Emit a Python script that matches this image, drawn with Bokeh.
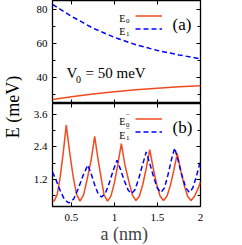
import math
from bokeh.plotting import figure
from bokeh.layouts import row, column
from bokeh.models import (Range1d, LinearAxis, FixedTicker, Label, Legend, LegendItem)
from bokeh.embed import file_html
from bokeh.resources import INLINE

# ---------------- data ----------------
a_top = [0.28, 0.5, 0.75, 1.0, 1.25, 1.5, 1.75, 2.0]
E0_top = [27.3, 28.9, 30.5, 31.8, 33.0, 33.9, 34.7, 35.3]
E1_top = [82.7, 75.8, 68.9, 63.5, 59.2, 55.9, 53.3, 51.0]

a_E0m = [0.28, 0.30, 0.335, 0.37, 0.405, 0.44, 0.48, 0.52, 0.56, 0.60,
         0.64, 0.68, 0.73, 0.77, 0.81, 0.85, 0.88, 0.92,
         0.96, 1.00, 1.04, 1.08, 1.12, 1.17, 1.21, 1.25,
         1.29, 1.33, 1.37, 1.41, 1.45, 1.49, 1.53, 1.57,
         1.61, 1.65, 1.69, 1.73, 1.77, 1.81, 1.85, 1.89,
         1.93, 1.97, 2.0]
E0m = [0.43, 0.40, 0.65, 1.30, 2.19, 3.20, 2.19, 1.30, 0.65, 0.40,
       0.62, 1.16, 1.93, 2.79, 1.93, 1.16, 0.62, 0.40,
       0.59, 1.08, 1.76, 2.52, 1.76, 1.09, 0.61, 0.42,
       0.59, 1.02, 1.62, 2.30, 1.62, 1.02, 0.59, 0.42,
       0.58, 0.98, 1.53, 2.16, 1.53, 0.98, 0.58, 0.42,
       0.58, 0.85, 1.10]

a_E1m = [0.28, 0.32, 0.37, 0.42, 0.47, 0.525, 0.58, 0.635, 0.69,
         0.73, 0.77, 0.81, 0.85, 0.895, 0.94, 0.985, 1.03,
         1.07, 1.115, 1.16, 1.20, 1.24, 1.285, 1.33, 1.37,
         1.41, 1.455, 1.50, 1.54, 1.58, 1.62, 1.66, 1.70,
         1.74, 1.785, 1.83, 1.87, 1.91, 1.955, 2.0]
E1m = [1.47, 1.19, 0.78, 0.45, 0.33, 0.47, 0.86, 1.34, 1.73,
       1.40, 1.00, 0.67, 0.55, 0.69, 1.07, 1.53, 1.91,
       1.57, 1.15, 0.80, 0.68, 0.83, 1.26, 1.78, 2.21,
       1.79, 1.29, 0.87, 0.72, 0.88, 1.34, 1.90, 2.36,
       1.90, 1.34, 0.88, 0.72, 0.88, 1.34, 1.90]

x_ticks = [0.5, 1.0, 1.5, 2.0]
x_tick_labels = ["0.5", "1", "1.5", "2"]
top_ticks = [40, 60, 80]
top_minor = [30, 50, 70]
bot_ticks = [1.2, 2.4, 3.6]
bot_minor = [0.6, 1.8, 3.0]

RED = "#f04b1e"
BLUE = "#0000ff"
FONT = "Liberation Serif"

FW, FH = 148, 103
BL, BR = 30, 34


def style_axis(ax, ticker, labels=True, minor_in=0):
    ax.ticker = ticker
    ax.axis_line_color = None
    ax.major_tick_in = 4
    ax.major_tick_out = 0
    ax.minor_tick_in = minor_in
    ax.minor_tick_out = 0
    ax.major_tick_line_color = "black"
    ax.minor_tick_line_color = "black"
    ax.major_tick_line_width = 1
    ax.minor_tick_line_width = 1
    if labels:
        ax.major_label_text_font = FONT
        ax.major_label_text_font_size = "11px"
        ax.major_label_text_color = "black"
        ax.major_label_standoff = 5
    else:
        ax.major_label_text_font_size = "0px"
        ax.major_label_standoff = 0
        ax.major_label_text_alpha = 0


def make_fig(yr, bottom_border):
    p = figure(x_range=Range1d(0.28, 2.0), y_range=yr,
               frame_width=FW, frame_height=FH,
               min_border_left=BL, min_border_right=BR,
               min_border_top=0, min_border_bottom=bottom_border,
               x_axis_type=None, y_axis_type=None,
               output_backend="svg", toolbar_location=None)
    p.outline_line_color = "black"
    p.outline_line_width = 1.3
    p.grid.visible = False
    p.background_fill_color = "white"
    p.border_fill_color = "white"
    return p


# ---------------- top panel ----------------
top = make_fig(Range1d(25, 85), 0)
tl = LinearAxis(); style_axis(tl, FixedTicker(ticks=top_ticks, minor_ticks=top_minor), True, 3)
tr = LinearAxis(); style_axis(tr, FixedTicker(ticks=top_ticks, minor_ticks=top_minor), False, 3)
ta = LinearAxis(); style_axis(ta, FixedTicker(ticks=x_ticks), False)
tb = LinearAxis(); style_axis(tb, FixedTicker(ticks=x_ticks), False)
top.add_layout(tl, "left")
top.add_layout(tr, "right")
top.add_layout(ta, "above")
top.add_layout(tb, "below")

r0 = top.line(a_top, E0_top, line_color=RED, line_width=1.5)
r1 = top.line(a_top, E1_top, line_color=BLUE, line_width=1.5, line_dash="5 3")

leg_t = Legend(items=[LegendItem(label=" ", renderers=[r0]),
                      LegendItem(label=" ", renderers=[r1])],
               location=(83, 68), padding=0, margin=0, spacing=0,
               glyph_width=27, glyph_height=13, label_height=13, label_width=0,
               label_standoff=0, label_text_font_size="1px",
               border_line_color=None, background_fill_alpha=0)
top.add_layout(leg_t)


def txt(p, x, y, t, size, align="left", baseline="alphabetic"):
    p.add_layout(Label(x=x, y=y, text=t, text_font=FONT, text_font_size=size,
                       text_align=align, text_baseline=baseline, text_color="black"))


txt(top, 1.055, 74.3, "E", "10px")
txt(top, 1.134, 72.8, "0", "7px")
txt(top, 1.055, 66.9, "E", "10px")
txt(top, 1.134, 65.2, "1", "7px")
txt(top, 1.675, 71.0, "(a)", "17px", baseline="middle")
txt(top, 0.443, 42.5, "V", "15px")
txt(top, 0.553, 39.0, "0", "10px")
txt(top, 0.664, 42.5, "= 50 meV", "15px")

# ---------------- bottom panel ----------------
bot = make_fig(Range1d(0.2, 4.0), 0)
bl = LinearAxis(); style_axis(bl, FixedTicker(ticks=bot_ticks, minor_ticks=bot_minor), True, 3)
br = LinearAxis(); style_axis(br, FixedTicker(ticks=bot_ticks, minor_ticks=bot_minor), False, 3)
ba = LinearAxis(); style_axis(ba, FixedTicker(ticks=x_ticks), False)
bb = LinearAxis(); style_axis(bb, FixedTicker(ticks=x_ticks), True)
bb.major_label_overrides = dict(zip(x_ticks, x_tick_labels))
bb.major_label_standoff = 7
bb.axis_label = "a  (nm)"
bb.axis_label_text_font = FONT
bb.axis_label_text_font_size = "18px"
bb.axis_label_text_font_style = "normal"
bb.axis_label_standoff = 0
bot.add_layout(bl, "left")
bot.add_layout(br, "right")
bot.add_layout(ba, "above")
bot.add_layout(bb, "below")

s0 = bot.line(a_E0m, E0m, line_color=RED, line_width=1.5)
s1 = bot.line(a_E1m, E1m, line_color=BLUE, line_width=1.5, line_dash="5 3")

leg_b = Legend(items=[LegendItem(label=" ", renderers=[s0]),
                      LegendItem(label=" ", renderers=[s1])],
               location=(83, 68), padding=0, margin=0, spacing=0,
               glyph_width=27, glyph_height=13, label_height=13, label_width=0,
               label_standoff=0, label_text_font_size="1px",
               border_line_color=None, background_fill_alpha=0)
bot.add_layout(leg_b)

txt(bot, 1.055, 3.347, "E", "10px")
txt(bot, 1.134, 3.565, "\u2212", "7px")
txt(bot, 1.134, 3.225, "0", "7px")
txt(bot, 1.055, 2.83, "E", "10px")
txt(bot, 1.134, 3.05, "\u2212", "7px")
txt(bot, 1.134, 2.727, "1", "7px")
txt(bot, 1.675, 3.125, "(b)", "17px", baseline="middle")

# ---------------- y label ----------------
lab = figure(width=22, height=245, x_range=Range1d(0, 22), y_range=Range1d(245, 0),
             min_border=0, x_axis_type=None, y_axis_type=None,
             output_backend="svg", toolbar_location=None)
lab.outline_line_color = None
lab.grid.visible = False
lab.add_layout(Label(x=12, y=106.5, text="E (meV)", text_font=FONT, text_font_size="18px",
                     text_align="center", text_baseline="middle", angle=math.pi / 2,
                     text_color="black"))

root = row(lab, column(top, bot, spacing=0), spacing=0)

open("out.html", "w").write(file_html(root, INLINE))
